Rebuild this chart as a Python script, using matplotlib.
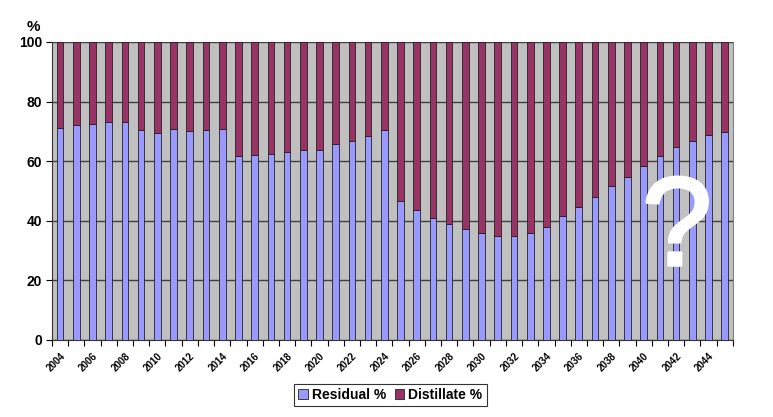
import matplotlib
matplotlib.use("Agg")
import matplotlib.pyplot as plt
import matplotlib.patheffects as pe
import numpy as np

years = list(range(2004, 2046))
residual = [71.3, 72.1, 72.6, 73.2, 73.2, 70.5, 69.6, 70.9, 70.2, 70.5, 70.9,
            61.8, 62.1, 62.5, 63.1, 63.8, 63.8, 65.6, 66.9, 68.6, 70.3,
            46.6, 43.6, 41.1, 39.0, 37.1, 35.8, 34.9, 34.9, 36.0, 37.9,
            41.5, 44.6, 47.9, 51.6, 54.7, 58.3, 61.7, 64.7, 66.9, 68.8, 69.8]
distillate = [100 - r for r in residual]

plt.rcParams['font.family'] = ['Liberation Sans', 'DejaVu Sans']
plt.rcParams['font.weight'] = 'bold'

fig = plt.figure(figsize=(7.73, 4.17), dpi=100)
ax = fig.add_axes([0.0673, 0.1847, 0.8807, 0.7146])
ax.set_facecolor('#C0C0C0')

x = np.arange(len(years))
w = 0.41
ax.bar(x, residual, width=w, color='#9999FF', edgecolor='#222222', linewidth=0.6,
       label='Residual %', zorder=3)
ax.bar(x, distillate, width=w, bottom=residual, color='#993366', edgecolor='#222222',
       linewidth=0.6, label='Distillate %', zorder=3)

ax.set_xlim(-0.5, len(years) - 0.5)
ax.set_ylim(0, 100)
ax.set_yticks([0, 20, 40, 60, 80, 100])
ax.yaxis.grid(True, color='#404040', linewidth=1.0, zorder=1)
ax.set_axisbelow(True)
for lab in ax.get_yticklabels():
    lab.set_fontweight('bold')
ax.tick_params(axis='y', labelsize=10, length=4, width=0.8, pad=3)

ax.set_xticks(x[::2])
ax.set_xticklabels([str(y) for y in years[::2]], rotation=45, ha='right', va='top',
                   rotation_mode='anchor', fontsize=7, fontweight='bold')
ax.set_xticks(np.arange(-0.5, len(years), 1), minor=True)
ax.tick_params(axis='x', which='major', length=0, pad=8)
ax.tick_params(axis='x', which='minor', length=4, width=0.8)

ax.spines['top'].set_visible(False)
ax.spines['right'].set_color('#808080')
ax.spines['left'].set_color('#333333')
ax.spines['bottom'].set_color('#333333')

fig.text(0.043, 0.935, '%', fontsize=11, fontweight='bold', ha='center', va='center')

ax.text(0.918, 0.405, '?', transform=ax.transAxes, fontsize=91, color='white',
        ha='center', va='center_baseline', fontweight='normal',
        family=['Liberation Sans'], zorder=5,
        path_effects=[pe.withStroke(linewidth=2.2, foreground='white')])

leg = fig.legend(loc='center', bbox_to_anchor=(0.505, 0.053), ncol=2, frameon=True,
                 fancybox=False, edgecolor='black', fontsize=10,
                 handlelength=0.7, handleheight=0.7, handletextpad=0.3,
                 columnspacing=0.6, borderpad=0.3)
leg.get_frame().set_linewidth(0.8)
for t in leg.get_texts():
    t.set_fontweight('bold')

fig.savefig('out.png', dpi=100)
